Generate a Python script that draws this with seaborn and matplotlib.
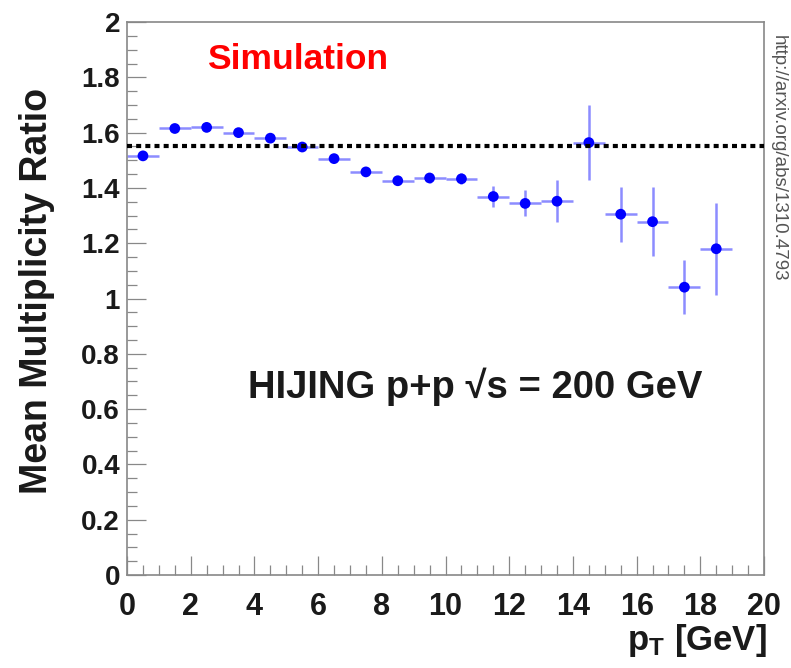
import matplotlib
matplotlib.use("Agg")
import matplotlib.pyplot as plt
import seaborn as sns
import pandas as pd
from matplotlib.ticker import MultipleLocator, FormatStrFormatter

# Valeurs (centres des bins en pT, rapport moyen)
pt_centers = [0.5, 1.5, 2.5, 3.5, 4.5, 5.5, 6.5, 7.5, 8.5, 9.5,
              10.5, 11.5, 12.5, 13.5, 14.5, 15.5, 16.5, 17.5, 18.5]
ratio = [1.516, 1.615, 1.619, 1.600, 1.580, 1.548, 1.506, 1.458, 1.426, 1.436,
         1.433, 1.369, 1.344, 1.352, 1.564, 1.305, 1.278, 1.041, 1.180]
ratio_err = [0.006, 0.006, 0.007, 0.008, 0.009, 0.010, 0.011, 0.013, 0.015, 0.017,
             0.020, 0.039, 0.047, 0.075, 0.135, 0.100, 0.125, 0.098, 0.166]
bin_half_width = [0.5] * len(pt_centers)
mean_ratio = 1.551

y_ticks = [0, 0.2, 0.4, 0.6, 0.8, 1, 1.2, 1.4, 1.6, 1.8, 2]

df = pd.DataFrame({"pt": pt_centers, "ratio": ratio, "err": ratio_err})

sns.set_theme(style="white")
plt.rcParams["font.family"] = ["Liberation Sans", "DejaVu Sans"]
plt.rcParams["mathtext.fontset"] = "custom"
plt.rcParams["mathtext.rm"] = "Liberation Sans:bold"
plt.rcParams["mathtext.it"] = "Liberation Sans:bold"
plt.rcParams["mathtext.bf"] = "Liberation Sans:bold"

fig = plt.figure(figsize=(7.91, 6.68), dpi=100)
ax = fig.add_axes([0.1606, 0.1392, 0.8053, 0.8278])

# Barres d'erreur (x = largeur du bin, y = incertitude)
ax.errorbar(df["pt"], df["ratio"], xerr=bin_half_width, yerr=df["err"],
            fmt="none", ecolor="#8c8cff", elinewidth=1.8, capsize=0, zorder=2)

# Points
sns.scatterplot(data=df, x="pt", y="ratio", ax=ax, color="#0000ff",
                s=60, edgecolor="none", zorder=3)

# Ligne pointillée : moyenne
ax.axhline(mean_ratio, color="black", linestyle=(0, (1.2, 1.0)), linewidth=3.0, zorder=4)

ax.set_xlim(0, 20)
ax.set_ylim(0, 2)
ax.xaxis.set_major_locator(MultipleLocator(2))
ax.xaxis.set_minor_locator(MultipleLocator(0.5))
ax.set_yticks(y_ticks)
ax.yaxis.set_minor_locator(MultipleLocator(0.05))
ax.yaxis.set_major_formatter(FormatStrFormatter("%g"))

for side in ["left", "bottom", "right", "top"]:
    ax.spines[side].set_color("#888888")
    ax.spines[side].set_linewidth(1.2)

ax.tick_params(which="both", bottom=True, left=True, top=False, right=False)
ax.tick_params(which="major", direction="in", length=14, width=0.9, color="#888888",
               labelcolor="#1a1a1a")
ax.tick_params(which="minor", direction="in", length=7, width=0.9, color="#888888")
ax.tick_params(axis="y", which="both", pad=5, labelsize=20)
ax.tick_params(axis="x", which="both", pad=12, labelsize=22)
for lab in ax.get_xticklabels() + ax.get_yticklabels():
    lab.set_fontweight("bold")

ax.set_ylabel("Mean Multiplicity Ratio", fontsize=27, fontweight="bold", color="#1a1a1a")
ax.yaxis.set_label_coords(-0.113, 0.514)
ax.set_xlabel(r"$\mathregular{p_T}$ [GeV]", fontsize=25, fontweight="bold",
              color="#1a1a1a", ha="right")
ax.xaxis.set_label_coords(1.005, -0.085)

ax.text(2.5, 1.83, "Simulation", color="#ff0000", fontsize=25.5, fontweight="bold")
ax.text(3.8, 0.64, "HIJING p+p \u221as = 200 GeV", color="#1a1a1a",
        fontsize=27.5, fontweight="bold")

# Lien arXiv vertical à droite
fig.text(0.984, 0.948, "http://arxiv.org/abs/1310.4793", rotation=-90,
         ha="center", va="top", fontsize=13.5, color="#555555")

fig.savefig("out.png", dpi=100)
